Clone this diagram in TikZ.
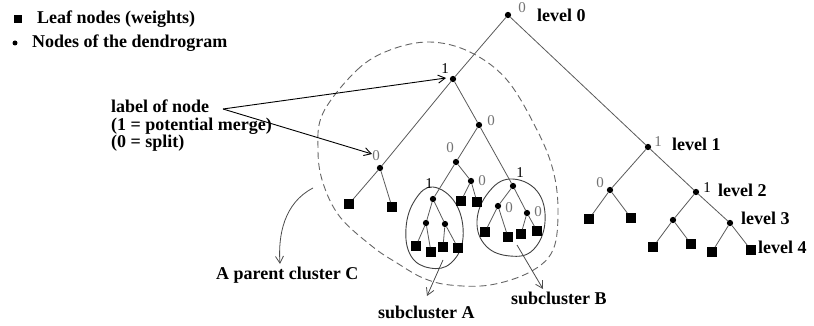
\documentclass[tikz,border=0pt]{standalone}
\usepackage{fontspec}
\setmainfont{Liberation Serif}
\usetikzlibrary{arrows.meta}
\tikzset{
  edge/.style={draw=black!65, line width=0.8pt},
  inn/.style={circle, fill=black, inner sep=0pt, minimum size=6.3pt},
  leaf/.style={rectangle, fill=black, inner sep=0pt, minimum size=9.3pt},
  lbl/.style={font=\fontsize{15}{15}\selectfont, text=black!55, inner sep=0pt},
  lblk/.style={font=\fontsize{15}{15}\selectfont, text=black, inner sep=0pt},
  txt/.style={font=\bfseries\fontsize{18}{21}\selectfont, inner sep=0pt, anchor=west},
  bound/.style={draw=black!60, line width=0.9pt, dash pattern=on 7pt off 4pt},
  blob/.style={draw=black!75, line width=0.9pt},
  pointer/.style={draw=black, line width=0.9pt, -{Straight Barb[length=7pt,width=8pt]}},
  pointerg/.style={draw=black!70, line width=0.8pt, -{Straight Barb[length=7pt,width=8pt]}}
}
\begin{document}
\begin{tikzpicture}[x=1pt,y=-1pt]
\useasboundingbox (0,0) rectangle (814,326);

% legend
\node[leaf, minimum size=8pt] (lgsq) at (17.5,19) {};
\node[txt] (lgt1) at (37,19) {Leaf nodes (weights)};
\node[inn, minimum size=5pt] (lgdot) at (15,43) {};
\node[txt] (lgt2) at (32,43) {Nodes of the dendrogram};

% parent cluster boundary
\draw[bound] plot[smooth cycle, tension=0.6] coordinates {
 (323,113) (357,70) (390,50) (430,42) (470,52) (507,80) (537,130)
 (553,170) (558,210) (553,250) (530,272) (490,285) (450,285)
 (423,278) (397,263) (373,247) (340,217) (323,183) (318,150)};

% subcluster boundaries
\draw[blob] plot[smooth cycle, tension=0.7] coordinates {
 (433,187) (456,204) (463,238) (451,263) (430,268) (411,256) (406,228) (415,200)};
\draw[blob] plot[smooth cycle, tension=0.7] coordinates {
 (510,179) (537,191) (545,222) (533,250) (510,256) (486,246) (477,221) (488,193)};

% tree nodes
\node[inn] (r) at (508,15) {};
\node[inn] (a) at (453,79) {};
\node[inn] (b) at (648,147) {};
\node[inn] (c) at (380,168) {};
\node[inn] (d) at (479,125) {};
\node[leaf] (c1) at (349,204) {};
\node[leaf] (c2) at (392,207) {};
\node[inn] (e) at (456,162) {};
\node[inn] (f) at (513,186) {};
\node[inn] (g) at (433,199) {};
\node[inn] (h) at (471,181) {};
\node[leaf] (h1) at (461,201) {};
\node[leaf] (h2) at (477,202) {};
\node[inn] (g1) at (426,223) {};
\node[inn] (g2) at (445,224) {};
\node[leaf] (g11) at (416,246) {};
\node[leaf] (g12) at (431,252) {};
\node[leaf] (g21) at (443,247) {};
\node[leaf] (g22) at (458,248) {};
\node[inn] (f1) at (498,206) {};
\node[inn] (f2) at (527,213) {};
\node[leaf] (f11) at (485,232) {};
\node[leaf] (f12) at (508,237) {};
\node[leaf] (f21) at (521,234) {};
\node[leaf] (f22) at (537,231) {};
\node[inn] (b1) at (610,190) {};
\node[inn] (b2) at (696,192) {};
\node[leaf] (b11) at (589,219) {};
\node[leaf] (b12) at (631,218) {};
\node[inn] (b21) at (673,220) {};
\node[inn] (b22) at (730,223) {};
\node[leaf] (b211) at (653,247) {};
\node[leaf] (b212) at (691,244) {};
\node[leaf] (b221) at (712,252) {};
\node[leaf] (b222) at (751,250) {};

% edges
\foreach \p/\q in {r/a, r/b, a/c, a/d, c/c1, c/c2, d/e, d/f, e/g, e/h, h/h1, h/h2,
  g/g1, g/g2, g1/g11, g1/g12, g2/g21, g2/g22, f/f1, f/f2, f1/f11, f1/f12, f2/f21, f2/f22,
  b/b1, b/b2, b1/b11, b1/b12, b2/b21, b2/b22, b21/b211, b21/b212, b22/b221, b22/b222}
  \draw[edge] (\p) -- (\q);

% node labels
\node[lbl] (lr) at (522,8) {0};
\node[lblk] (la) at (445,69) {1};
\node[lbl] (ld) at (491,121) {0};
\node[lbl] (lc) at (376,156) {0};
\node[lbl] (le) at (450,148) {0};
\node[lbl] (lh) at (482,181) {0};
\node[lblk] (lg) at (429,184) {1};
\node[lblk] (lf) at (520,173) {1};
\node[lbl] (lf1) at (509,208) {0};
\node[lbl] (lf2) at (538,212) {0};
\node[lbl] (lb) at (658,142) {1};
\node[lbl] (lb1) at (600,183) {0};
\node[lblk] (lb2) at (707,188) {1};

% level labels
\node[txt] (lv0) at (537,15) {level 0};
\node[txt] (lv1) at (672,144) {level 1};
\node[txt] (lv2) at (718,190) {level 2};
\node[txt] (lv3) at (741,218) {level 3};
\node[txt] (lv4) at (758,247) {level 4};

% label of node text and arrows
\node[txt, anchor=north west, align=left, font=\bfseries\fontsize{18}{17.5}\selectfont]
  (lon) at (111,100) {label of node\\(1 = potential merge)\\(0 = split)};
\coordinate (src) at (223,109);
\coordinate (tgA) at (446,78);
\coordinate (tgC) at (372,154);
\draw[pointer] (src) -- (tgA);
\draw[pointer] (src) -- (tgC);

% cluster captions
\node[txt] (pc) at (216,275) {A parent cluster C};
\node[txt] (sa) at (378,312) {subcluster A};
\node[txt] (sb) at (511,298) {subcluster B};
\coordinate (pcs) at (313,188);
\coordinate (pce) at (280,264);
\draw[pointerg] (pcs) .. controls (284,203) and (278,235) .. (pce);
\coordinate (sas) at (443,260);
\coordinate (sae) at (427,296);
\draw[pointerg] (sas) -- (sae);
\coordinate (sbs) at (517,245);
\coordinate (sbe) at (543,289);
\draw[pointerg] (sbs) -- (sbe);
\end{tikzpicture}
\end{document}
